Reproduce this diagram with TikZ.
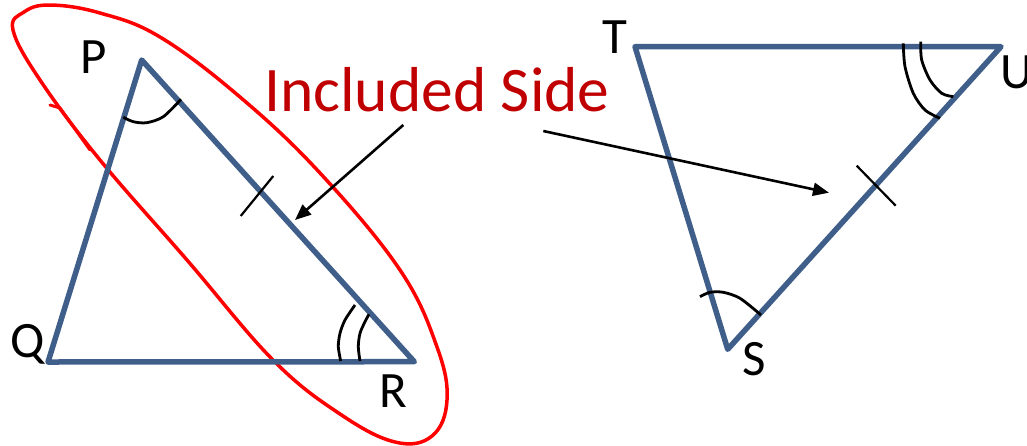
\documentclass[tikz,border=0pt]{standalone}
\usepackage{fontspec}
\setmainfont{Carlito}
\usetikzlibrary{arrows.meta}
\definecolor{triblue}{HTML}{3F5F8A}
\definecolor{inkred}{HTML}{FF0000}
\definecolor{textred}{HTML}{C00000}
\tikzset{
  tri/.style={draw=triblue, line width=5.5pt, line join=round, line cap=round},
  loop/.style={draw=inkred, line width=3.5pt, line join=round, line cap=round},
  anglemark/.style={draw=black, line width=2.8pt},
  tickmark/.style={draw=black, line width=2.2pt},
  pointer/.style={draw=black, line width=2.6pt, -{Triangle[length=16pt,width=13pt]}},
  vlabel/.style={font=\fontsize{51}{51}\selectfont, inner sep=0pt, anchor=base},
}
\begin{document}
\begin{tikzpicture}[x=1pt, y=-1pt]
\useasboundingbox (0,0) rectangle (1027,445);
% red freehand loop
\draw[loop] plot[smooth cycle, tension=0.65] coordinates {
(13,30) (24,12) (50,5) (100,13) (160,37) (240,97) (320,173) (400,270)
(437,347) (447,400) (432,436) (395,442) (340,414) (273,360) (187,260)
(100,160) (40,80)};
\draw[loop, line width=3pt] (50,105) -- (60,108) -- (90,150);
% triangle PQR
\coordinate (P) at (141.7,60);
\coordinate (Q) at (48,362);
\coordinate (R) at (414.3,361.7);
\draw[tri] (P) -- (Q) -- (R) -- cycle;
% triangle TUS
\coordinate (T) at (635,46.7);
\coordinate (U) at (1001,46.7);
\coordinate (S) at (727.7,349.3);
\draw[tri] (T) -- (U) -- (S) -- cycle;
% angle marks
\draw[anglemark] plot[smooth] coordinates {(123.3,117.3) (133.3,121.7) (146.7,122.7) (163.3,116.7) (181,99.3)};
\draw[anglemark] plot[smooth] coordinates {(360,361) (358.3,346.7) (360,333.3) (365,321.7) (369,314.3)};
\draw[anglemark] plot[smooth] coordinates {(340.7,361) (338.3,346.7) (340,333.3) (345,320) (355,305)};
\draw[anglemark] plot[smooth] coordinates {(920.7,41.7) (921.7,60) (930,80) (941.7,93.3) (953.3,96.7)};
\draw[anglemark] plot[smooth] coordinates {(903.3,43.3) (905,66.7) (913.3,93.3) (925,110) (940,118.3)};
\draw[anglemark] plot[smooth] coordinates {(700,296.7) (710,292.3) (723.3,292.3) (740,298.3) (761,315)};
% tick marks
\coordinate (t1a) at (273.3,176); \coordinate (t1b) at (240.7,216);
\draw[tickmark] (t1a) -- (t1b);
\coordinate (t2a) at (856.7,165.7); \coordinate (t2b) at (895.7,205.7);
\draw[tickmark] (t2a) -- (t2b);
% vertex labels
\node[vlabel] (lP) at (94,73) {P};
\node[vlabel] (lQ) at (28,357) {Q};
\node[vlabel] (lR) at (393,407) {R};
\node[vlabel] (lT) at (615,53) {T};
\node[vlabel, anchor=base west] (lU) at (1000,88) {U};
\node[vlabel] (lS) at (754,375) {S};
% caption and pointers
\node[font=\fontsize{63.5}{63.5}\selectfont, text=textred, inner sep=0pt, anchor=base west] (cap) at (264,111.7) {Included Side};
\coordinate (a1s) at (403.3,125); \coordinate (a1e) at (295,220);
\coordinate (a2s) at (543.3,131); \coordinate (a2e) at (829,192.7);
\draw[pointer] (a1s) -- (a1e);
\draw[pointer] (a2s) -- (a2e);
\end{tikzpicture}
\end{document}
